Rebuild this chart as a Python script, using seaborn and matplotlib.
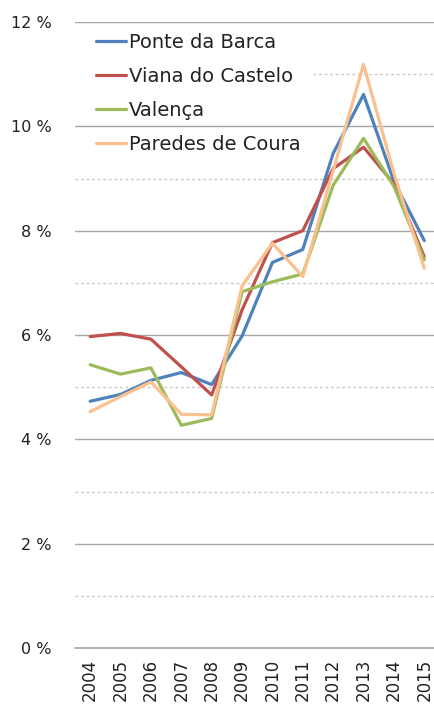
import matplotlib
matplotlib.use('Agg')
import matplotlib.pyplot as plt
from matplotlib.ticker import FixedLocator, FuncFormatter
import numpy as np
import pandas as pd
import seaborn as sns

# values (percent)
years = list(range(2004, 2016))
ponte_da_barca = [4.73, 4.86, 5.13, 5.28, 5.05, 5.98, 7.39, 7.64, 9.48, 10.61, 8.95, 7.81]
viana_do_castelo = [5.97, 6.03, 5.92, 5.39, 4.85, 6.48, 7.77, 8.00, 9.19, 9.60, 8.90, 7.50]
valenca = [5.43, 5.25, 5.37, 4.27, 4.40, 6.83, 7.02, 7.17, 8.87, 9.77, 8.85, 7.44]
paredes_de_coura = [4.53, 4.82, 5.10, 4.48, 4.47, 6.94, 7.76, 7.12, 9.15, 11.19, 9.10, 7.28]

series = {
    'Ponte da Barca': ponte_da_barca,
    'Viana do Castelo': viana_do_castelo,
    'Valença': valenca,
    'Paredes de Coura': paredes_de_coura,
}
colors = ['#4F81BD', '#C0504D', '#9BBB59', '#FAC090']


def main():
    sns.set_style('white')
    plt.rcParams['font.family'] = ['DejaVu Sans']

    rows = []
    for name, vals in series.items():
        for y, v in zip(years, vals):
            rows.append({'year': y, 'value': v, 'region': name})
    df = pd.DataFrame(rows)

    fig = plt.figure(figsize=(4.34, 7.06), dpi=100)
    ax = fig.add_axes([75 / 434, 58 / 706, 359 / 434, 626 / 706])

    # gridlines: solid on even, dotted on odd percentages
    # (the legend box hides the left part of the 11 % line)
    for g in range(1, 13):
        if g % 2 == 0:
            ax.axhline(g, color='#A6A6A6', lw=1.0, zorder=0)
        else:
            xmin = 0.663 if g == 11 else 0
            ax.axhline(g, xmin=xmin, color='#C8C8C8', lw=1.0, ls=(0, (2, 2)), zorder=0)

    sns.lineplot(data=df, x='year', y='value', hue='region',
                 palette=colors, lw=2.3, ax=ax, legend=True)

    ax.set_ylim(0, 12)
    ax.set_xlim(2003.5, 2015.32)
    ax.set_yticks(range(0, 13, 2))
    ax.yaxis.set_major_formatter(FuncFormatter(lambda v, p: '%d %%' % v))
    ax.set_xticks(years)
    ax.set_xticklabels([str(y) for y in years], rotation=90)
    ax.xaxis.set_minor_locator(FixedLocator(np.arange(2003.5, 2015, 1.0)))
    ax.tick_params(axis='x', which='major', length=0, pad=8, labelsize=12, colors='#222222')
    ax.tick_params(axis='x', which='minor', length=6, width=1, color='#A6A6A6', direction='out')
    ax.tick_params(axis='y', length=0, pad=17, labelsize=11.5, colors='#222222')
    ax.set_xlabel('')
    ax.set_ylabel('')

    for s in ['top', 'right', 'left']:
        ax.spines[s].set_visible(False)
    ax.spines['bottom'].set_color('#A6A6A6')
    ax.spines['bottom'].set_linewidth(1.2)

    leg = ax.legend(loc='upper left', bbox_to_anchor=(0.058, 0.982), frameon=False,
                    fontsize=14, handlelength=1.55, handletextpad=0.15,
                    labelspacing=0.76, borderpad=0, borderaxespad=0)
    for t in leg.get_texts():
        t.set_color('#222222')
    for l in leg.get_lines():
        l.set_linewidth(2.3)

    fig.savefig('out.png', dpi=100)
    plt.close(fig)


if __name__ == '__main__':
    main()
